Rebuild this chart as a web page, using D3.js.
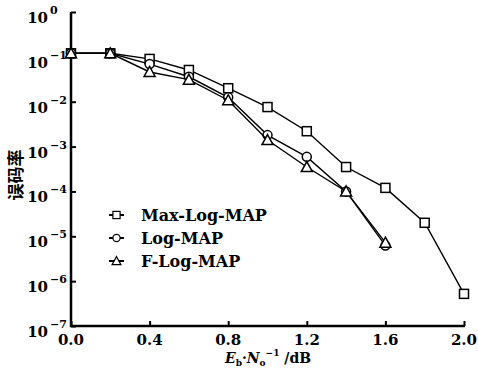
<!DOCTYPE html>
<html lang="zh">
<head>
<meta charset="UTF-8" />
<title>BER chart</title>
<script src="https://d3js.org/d3.v7.min.js"></script>
<style>
  body { margin: 0; background: #fff; }
  svg text { font-family: "DejaVu Serif", serif; font-weight: bold; fill: #000; }
  .line { fill: none; stroke: #000; stroke-width: 1.4; }
  .mark { fill: #fff; stroke: #000; stroke-width: 1.5; }
</style>
</head>
<body>
<script>
const WIDTH = 478, HEIGHT = 375;

// data
const xs = [0.0, 0.2, 0.4, 0.6, 0.8, 1.0, 1.2, 1.4, 1.6, 1.8, 2.0];
const maxLogMap = [0.12, 0.12, 0.09, 0.051, 0.020, 0.0076, 0.0022, 3.5e-4, 1.2e-4, 2.0e-5, 5.2e-7];
const logMap    = [0.12, 0.12, 0.069, 0.036, 0.0125, 0.0018, 5.9e-4, 1.0e-4, 6.2e-6];
const fLogMap   = [0.12, 0.12, 0.046, 0.031, 0.0108, 0.0014, 3.5e-4, 1.0e-4, 7.2e-6];
const seriesNames = ["Max-Log-MAP", "Log-MAP", "F-Log-MAP"];
const symbols = ["square", "circle", "triangle"];
const xTicks = [0.0, 0.4, 0.8, 1.2, 1.6, 2.0];
const yExps = [0, -1, -2, -3, -4, -5, -6, -7];

const svg = d3.select("body").append("svg")
    .attr("width", WIDTH).attr("height", HEIGHT);

const x = d3.scaleLinear().domain([0, 2]).range([71, 464]);
const y = d3.scaleLog().domain([1e-7, 1]).range([326, 12]);

// y axis
svg.append("g")
    .attr("transform", "translate(71,0)")
    .call(d3.axisLeft(y).tickValues(yExps.map(e => Math.pow(10, e))).tickSize(-5).tickFormat(""))
    .call(g => g.select(".domain").attr("stroke-width", 2.5).attr("d", "M0,12V327"))
    .call(g => g.selectAll(".tick line").attr("stroke-width", 2));

const yl = svg.append("g").selectAll("text")
    .data(yExps).join("text")
    .attr("x", 48).attr("y", d => y(Math.pow(10, d)) + 11)
    .attr("text-anchor", "end")
    .attr("font-size", 15);
yl.append("tspan").text("10");
yl.append("tspan").attr("x", 50).attr("dy", -9).attr("font-size", 11)
    .attr("text-anchor", "start")
    .text(d => d === 0 ? "0" : "\u2212" + (-d));

// x axis
svg.append("g")
    .attr("transform", "translate(0,326)")
    .call(d3.axisBottom(x).tickValues(xTicks).tickSize(-5).tickFormat(""))
    .call(g => g.select(".domain").attr("stroke-width", 2.5).attr("d", "M70,0H465"))
    .call(g => g.selectAll(".tick line").attr("stroke-width", 2));

svg.append("g").selectAll("text")
    .data(xTicks).join("text")
    .attr("x", d => x(d)).attr("y", 345)
    .attr("text-anchor", "middle")
    .attr("font-size", 15)
    .text(d => d.toFixed(1));

// axis titles
const xt = svg.append("text")
    .attr("x", 268).attr("y", 363)
    .attr("text-anchor", "middle")
    .attr("font-size", 14);
xt.append("tspan").attr("font-style", "italic").text("E");
xt.append("tspan").attr("font-size", 9).attr("dy", 3).text("b");
xt.append("tspan").attr("dy", -3).text("\u00b7");
xt.append("tspan").attr("font-style", "italic").text("N");
xt.append("tspan").attr("font-size", 9).attr("dy", 3).text("o");
xt.append("tspan").attr("font-size", 9).attr("dy", -10).text("\u22121");
xt.append("tspan").attr("dy", 7).text(" /dB");

svg.append("text")
    .attr("transform", "translate(22,175) rotate(-90)")
    .attr("text-anchor", "middle")
    .style("font-family", "Noto Sans CJK SC")
    .attr("font-size", 17)
    .text("误码率");

// series
const allSeries = [maxLogMap, logMap, fLogMap];
const line = d3.line()
    .x((d, i) => x(xs[i]))
    .y(d => y(d));

function marker(g, sym) {
  if (sym === "square") {
    g.append("rect").attr("class", "mark").attr("x", -4.5).attr("y", -4.5).attr("width", 9).attr("height", 9);
  } else if (sym === "circle") {
    g.append("circle").attr("class", "mark").attr("r", 4.5);
  } else {
    g.append("path").attr("class", "mark").attr("d", "M0,-5.5L5.5,4.5H-5.5Z");
  }
}

allSeries.forEach((s, k) => {
  svg.append("path").datum(s).attr("class", "line").attr("d", line);
  svg.append("g").selectAll("g")
      .data(s).join("g")
      .attr("transform", (d, i) => `translate(${x(xs[i])},${y(d)})`)
      .each(function() { marker(d3.select(this), symbols[k]); });
});

// legend
const lg = svg.append("g").selectAll("g")
    .data(seriesNames).join("g")
    .attr("transform", (d, i) => `translate(0,${215 + i * 23})`);
lg.append("line").attr("x1", 109).attr("x2", 124).attr("stroke", "#000").attr("stroke-width", 2);
lg.each(function(d, i) {
  const m = d3.select(this).append("g").attr("transform", "translate(116.5,0) scale(0.8)");
  marker(m, symbols[i]);
});
lg.append("text").attr("x", 141).attr("y", 5.5).attr("font-size", 16).text(d => d);
</script>
</body>
</html>
